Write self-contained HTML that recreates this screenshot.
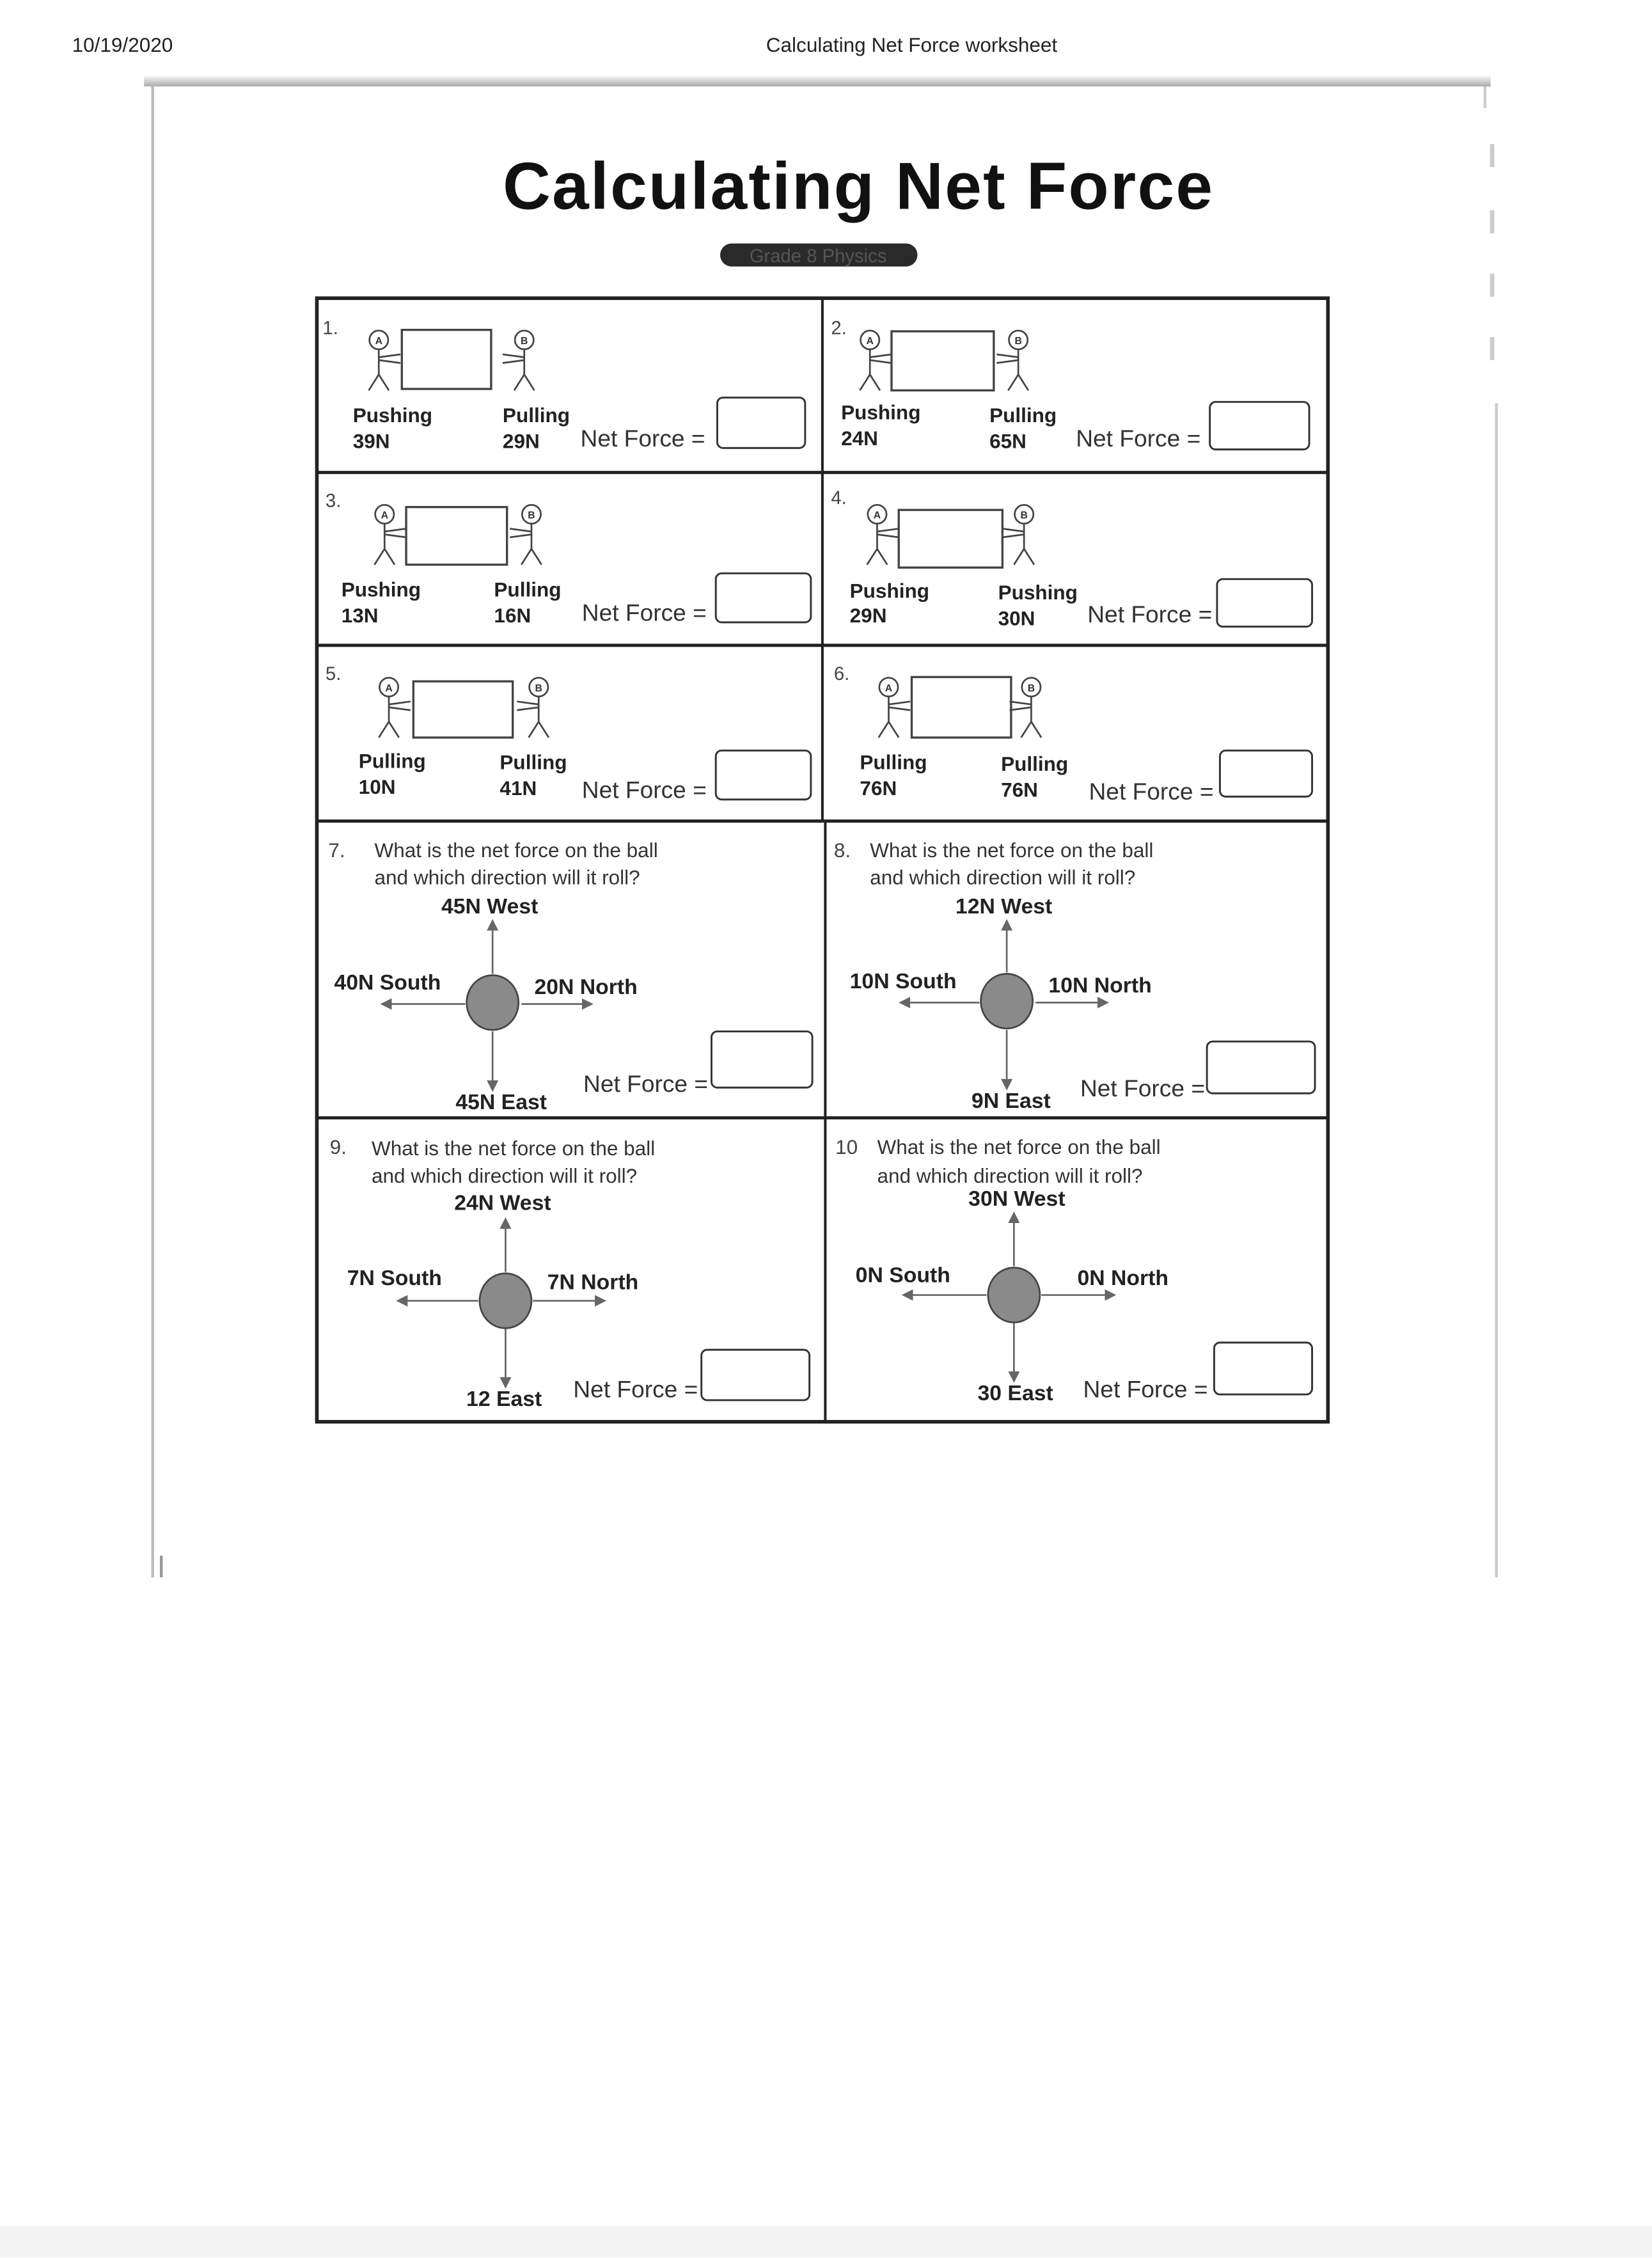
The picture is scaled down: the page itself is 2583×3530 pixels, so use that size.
<!DOCTYPE html>
<html><head><meta charset="utf-8"><style>
html,body{margin:0;padding:0;background:#fff;}
svg{display:block;}
text{font-family:"Liberation Sans",sans-serif;fill:#1a1a1a;}
.l{font-size:14px;font-weight:bold;fill:#222;}
.q{font-size:14px;fill:#333;}
.b{font-size:15px;font-weight:bold;fill:#222;}
.nf{font-size:16.5px;fill:#333;}
.n{font-size:13px;fill:#444;}
.h{font-size:7px;font-weight:bold;fill:#333;}
</style></head><body>
<svg width="2583" height="3530" viewBox="0 0 1147 1567.5" preserveAspectRatio="none" xmlns="http://www.w3.org/2000/svg">
<defs>
<marker id="ar" markerWidth="8" markerHeight="8" refX="6" refY="4" orient="auto" markerUnits="userSpaceOnUse"><path d="M0,0 L8,4 L0,8 z" fill="#666"/></marker>
<linearGradient id="sh" x1="0" y1="0" x2="0" y2="1"><stop offset="0" stop-color="#fff"/><stop offset="1" stop-color="#aaa"/></linearGradient>
<symbol id="figA" overflow="visible"><g stroke="#444" stroke-width="1.2" fill="none"><circle cx="0" cy="0" r="6.5" fill="#fff"/><line x1="0" y1="6.5" x2="0" y2="24"/><line x1="0" y1="12" x2="15" y2="10"/><line x1="0" y1="14" x2="15" y2="16"/><line x1="0" y1="24" x2="-7" y2="35"/><line x1="0" y1="24" x2="7" y2="35"/></g></symbol>
<symbol id="figB" overflow="visible"><g stroke="#444" stroke-width="1.2" fill="none"><circle cx="0" cy="0" r="6.5" fill="#fff"/><line x1="0" y1="6.5" x2="0" y2="24"/><line x1="0" y1="12" x2="-15" y2="10"/><line x1="0" y1="14" x2="-15" y2="16"/><line x1="0" y1="24" x2="-7" y2="35"/><line x1="0" y1="24" x2="7" y2="35"/></g></symbol>
</defs>
<rect width="1147" height="1567.5" fill="#fff"/>
<text x="50" y="36" style="font-size:14px;fill:#222">10/19/2020</text>
<text x="633" y="36" text-anchor="middle" style="font-size:14px;fill:#222">Calculating Net Force worksheet</text>
<rect x="100" y="52" width="935" height="8" fill="url(#sh)"/>
<line x1="106" y1="58" x2="106" y2="1095" stroke="#bbb" stroke-width="2"/>
<line x1="1031" y1="60" x2="1031" y2="75" stroke="#ccc" stroke-width="2"/>
<line x1="1039" y1="280" x2="1039" y2="1095" stroke="#ccc" stroke-width="2"/>
<line x1="112" y1="1080" x2="112" y2="1095" stroke="#999" stroke-width="2"/>
<g stroke="#ccc" stroke-width="3"><line x1="1036" y1="100" x2="1036" y2="116"/><line x1="1036" y1="146" x2="1036" y2="162"/><line x1="1036" y1="190" x2="1036" y2="206"/><line x1="1036" y1="234" x2="1036" y2="250"/></g>
<text x="596" y="145" text-anchor="middle" style="font-size:46px;font-weight:bold;fill:#111;letter-spacing:1px">Calculating Net Force</text>
<rect x="500" y="169" width="137" height="16" rx="8" fill="#2a2a2a"/>
<text x="568" y="182" text-anchor="middle" style="font-size:13px;fill:#555">Grade 8 Physics</text>
<g stroke="#222" fill="none">
<rect x="220" y="207" width="702" height="780" stroke-width="2.5"/>
<line x1="220" y1="328" x2="922" y2="328" stroke-width="2.2"/>
<line x1="220" y1="448" x2="922" y2="448" stroke-width="2.2"/>
<line x1="220" y1="570" x2="922" y2="570" stroke-width="2.2"/>
<line x1="220" y1="776" x2="922" y2="776" stroke-width="2.2"/>
<line x1="571" y1="207" x2="571" y2="570" stroke-width="1.8"/>
<line x1="573" y1="570" x2="573" y2="987" stroke-width="1.8"/>
</g>
<g>
<text class="n" x="224" y="232">1.</text>
<use href="#figA" x="263" y="236"/><rect x="279" y="229" width="62" height="41" fill="#fff" stroke="#444" stroke-width="1.5"/><use href="#figB" x="364" y="236"/>
<text class="h" x="263" y="239" text-anchor="middle">A</text><text class="h" x="364" y="239" text-anchor="middle">B</text>
<text class="l" x="245" y="293">Pushing</text><text class="l" x="245" y="311">39N</text>
<text class="l" x="349" y="293">Pulling</text><text class="l" x="349" y="311">29N</text>
<text class="nf" x="403" y="310">Net Force =</text><rect x="498" y="276" width="61" height="35" rx="4" fill="#fff" stroke="#333" stroke-width="1.3"/>

<text class="n" x="577" y="232">2.</text>
<use href="#figA" x="604" y="236"/><rect x="619" y="230" width="71" height="41" fill="#fff" stroke="#444" stroke-width="1.5"/><use href="#figB" x="707" y="236"/>
<text class="h" x="604" y="239" text-anchor="middle">A</text><text class="h" x="707" y="239" text-anchor="middle">B</text>
<text class="l" x="584" y="291">Pushing</text><text class="l" x="584" y="309">24N</text>
<text class="l" x="687" y="293">Pulling</text><text class="l" x="687" y="311">65N</text>
<text class="nf" x="747" y="310">Net Force =</text><rect x="840" y="279" width="69" height="33" rx="4" fill="#fff" stroke="#333" stroke-width="1.3"/>

<text class="n" x="226" y="352">3.</text>
<use href="#figA" x="267" y="357"/><rect x="282" y="352" width="70" height="40" fill="#fff" stroke="#444" stroke-width="1.5"/><use href="#figB" x="369" y="357"/>
<text class="h" x="267" y="360" text-anchor="middle">A</text><text class="h" x="369" y="360" text-anchor="middle">B</text>
<text class="l" x="237" y="414">Pushing</text><text class="l" x="237" y="432">13N</text>
<text class="l" x="343" y="414">Pulling</text><text class="l" x="343" y="432">16N</text>
<text class="nf" x="404" y="431">Net Force =</text><rect x="497" y="398" width="66" height="34" rx="4" fill="#fff" stroke="#333" stroke-width="1.3"/>

<text class="n" x="577" y="350">4.</text>
<use href="#figA" x="609" y="357"/><rect x="624" y="354" width="72" height="40" fill="#fff" stroke="#444" stroke-width="1.5"/><use href="#figB" x="711" y="357"/>
<text class="h" x="609" y="360" text-anchor="middle">A</text><text class="h" x="711" y="360" text-anchor="middle">B</text>
<text class="l" x="590" y="415">Pushing</text><text class="l" x="590" y="432">29N</text>
<text class="l" x="693" y="416">Pushing</text><text class="l" x="693" y="434">30N</text>
<text class="nf" x="755" y="432">Net Force =</text><rect x="845" y="402" width="66" height="33" rx="4" fill="#fff" stroke="#333" stroke-width="1.3"/>

<text class="n" x="226" y="472">5.</text>
<use href="#figA" x="270" y="477"/><rect x="287" y="473" width="69" height="39" fill="#fff" stroke="#444" stroke-width="1.5"/><use href="#figB" x="374" y="477"/>
<text class="h" x="270" y="480" text-anchor="middle">A</text><text class="h" x="374" y="480" text-anchor="middle">B</text>
<text class="l" x="249" y="533">Pulling</text><text class="l" x="249" y="551">10N</text>
<text class="l" x="347" y="534">Pulling</text><text class="l" x="347" y="552">41N</text>
<text class="nf" x="404" y="554">Net Force =</text><rect x="497" y="521" width="66" height="34" rx="4" fill="#fff" stroke="#333" stroke-width="1.3"/>

<text class="n" x="579" y="472">6.</text>
<use href="#figA" x="617" y="477"/><rect x="633" y="470" width="69" height="42" fill="#fff" stroke="#444" stroke-width="1.5"/><use href="#figB" x="716" y="477"/>
<text class="h" x="617" y="480" text-anchor="middle">A</text><text class="h" x="716" y="480" text-anchor="middle">B</text>
<text class="l" x="597" y="534">Pulling</text><text class="l" x="597" y="552">76N</text>
<text class="l" x="695" y="535">Pulling</text><text class="l" x="695" y="553">76N</text>
<text class="nf" x="756" y="555">Net Force =</text><rect x="847" y="521" width="64" height="32" rx="4" fill="#fff" stroke="#333" stroke-width="1.3"/>
</g>
<g stroke="#666" stroke-width="1.2" marker-end="url(#ar)">
<line x1="342" y1="676" x2="342" y2="640"/><line x1="323" y1="697" x2="266" y2="697"/><line x1="362" y1="697" x2="410" y2="697"/><line x1="342" y1="716" x2="342" y2="756"/>
<line x1="699" y1="675" x2="699" y2="640"/><line x1="680" y1="696" x2="626" y2="696"/><line x1="719" y1="696" x2="768" y2="696"/><line x1="699" y1="715" x2="699" y2="755"/>
<line x1="351" y1="883" x2="351" y2="847"/><line x1="332" y1="903" x2="277" y2="903"/><line x1="370" y1="903" x2="419" y2="903"/><line x1="351" y1="922" x2="351" y2="962"/>
<line x1="704" y1="879" x2="704" y2="843"/><line x1="685" y1="899" x2="628" y2="899"/><line x1="723" y1="899" x2="773" y2="899"/><line x1="704" y1="918" x2="704" y2="958"/>
</g>
<g fill="#8a8a8a" stroke="#444" stroke-width="1.2">
<ellipse cx="342" cy="696" rx="18" ry="19"/><ellipse cx="699" cy="695" rx="18" ry="19"/><ellipse cx="351" cy="903" rx="18" ry="19"/><ellipse cx="704" cy="899" rx="18" ry="19"/>
</g>
<g>
<text class="n" x="228" y="595" style="font-size:14px">7.</text>
<text class="q" x="260" y="595">What is the net force on the ball</text><text class="q" x="260" y="614">and which direction will it roll?</text>
<text class="b" x="340" y="634" text-anchor="middle">45N West</text>
<text class="b" x="232" y="687">40N South</text><text class="b" x="371" y="690">20N North</text>
<text class="b" x="348" y="770" text-anchor="middle">45N East</text>
<text class="nf" x="405" y="758">Net Force =</text><rect x="494" y="716" width="70" height="39" rx="4" fill="#fff" stroke="#333" stroke-width="1.3"/>

<text class="n" x="579" y="595" style="font-size:14px">8.</text>
<text class="q" x="604" y="595">What is the net force on the ball</text><text class="q" x="604" y="614">and which direction will it roll?</text>
<text class="b" x="697" y="634" text-anchor="middle">12N West</text>
<text class="b" x="590" y="686">10N South</text><text class="b" x="728" y="689">10N North</text>
<text class="b" x="702" y="769" text-anchor="middle">9N East</text>
<text class="nf" x="750" y="761">Net Force =</text><rect x="838" y="723" width="75" height="36" rx="4" fill="#fff" stroke="#333" stroke-width="1.3"/>

<text class="n" x="229" y="801" style="font-size:14px">9.</text>
<text class="q" x="258" y="802">What is the net force on the ball</text><text class="q" x="258" y="821">and which direction will it roll?</text>
<text class="b" x="349" y="840" text-anchor="middle">24N West</text>
<text class="b" x="241" y="892">7N South</text><text class="b" x="380" y="895">7N North</text>
<text class="b" x="350" y="976" text-anchor="middle">12 East</text>
<text class="nf" x="398" y="970">Net Force =</text><rect x="487" y="937" width="75" height="35" rx="4" fill="#fff" stroke="#333" stroke-width="1.3"/>

<text class="n" x="580" y="801" style="font-size:14px">10</text>
<text class="q" x="609" y="801">What is the net force on the ball</text><text class="q" x="609" y="821">and which direction will it roll?</text>
<text class="b" x="706" y="837" text-anchor="middle">30N West</text>
<text class="b" x="594" y="890">0N South</text><text class="b" x="748" y="892">0N North</text>
<text class="b" x="705" y="972" text-anchor="middle">30 East</text>
<text class="nf" x="752" y="970">Net Force =</text><rect x="843" y="932" width="68" height="36" rx="4" fill="#fff" stroke="#333" stroke-width="1.3"/>
</g>
<rect x="0" y="1545" width="1147" height="22" fill="#f4f4f4"/>
</svg>
</body></html>
